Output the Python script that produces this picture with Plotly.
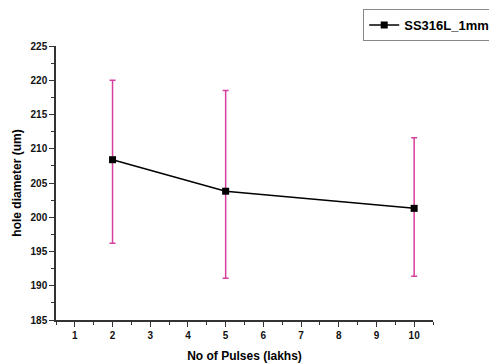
import plotly.graph_objects as go

pulses = [2, 5, 10]
diameter = [208.4, 203.8, 201.3]
upper = [220.0, 218.5, 211.6]
lower = [196.2, 191.1, 191.4]
series_name = "SS316L_1mm"

err_plus = [u - v for u, v in zip(upper, diameter)]
err_minus = [v - l for v, l in zip(diameter, lower)]

fig = go.Figure()
fig.add_trace(go.Scatter(
    x=pulses, y=diameter, mode="lines+markers", name=series_name,
    line=dict(color="black", width=1.5),
    marker=dict(symbol="square", size=7, color="black"),
    error_y=dict(type="data", symmetric=False, array=err_plus, arrayminus=err_minus,
                 color="#d6409f", thickness=1.5, width=3),
))

font_family = "Liberation Sans, Arial, sans-serif"
fig.update_layout(
    width=489, height=356,
    margin=dict(l=48, r=64, t=38, b=44, autoexpand=False),
    plot_bgcolor="white", paper_bgcolor="white",
    font=dict(family=font_family, color="#111", size=10),
    showlegend=True,
    legend=dict(x=1.165, y=1.135, xanchor="right", yanchor="top",
                bordercolor="#888", borderwidth=1, bgcolor="white",
                font=dict(size=13, family=font_family, color="#000", weight="bold"),
                itemwidth=30),
    xaxis=dict(
        range=[0.5, 10.5], tickmode="array", tickvals=list(range(1, 11)),
        ticks="outside", ticklen=5, tickwidth=1.2, tickcolor="#333",
        showline=True, linecolor="#333", linewidth=1.5, showgrid=False, zeroline=False,
        tickfont=dict(size=10, weight="bold"),
        minor=dict(dtick=0.5, tick0=0.5, ticks="outside", ticklen=3, tickcolor="#333", showgrid=False),
        title=dict(text="No of Pulses (lakhs)", font=dict(size=12, weight="bold", color="#000"), standoff=12),
    ),
    yaxis=dict(
        range=[185, 225], tickmode="linear", tick0=185, dtick=5,
        ticks="outside", ticklen=5, tickwidth=1.2, tickcolor="#333",
        showline=True, linecolor="#333", linewidth=1.5, showgrid=False, zeroline=False,
        tickfont=dict(size=10, weight="bold"),
        minor=dict(dtick=2.5, tick0=185, ticks="outside", ticklen=3, tickcolor="#333", showgrid=False),
        title=dict(text="hole diameter (um)", font=dict(size=12, weight="bold", color="#000"), standoff=6),
    ),
)

fig.write_html("out.html")
